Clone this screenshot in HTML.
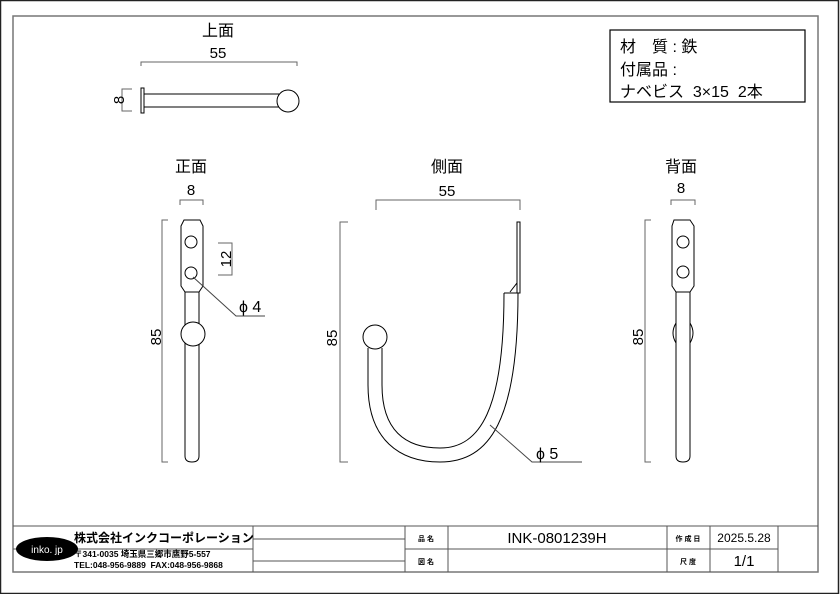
<!DOCTYPE html><html><head><meta charset="utf-8"><style>body{margin:0;background:#fff}svg{display:block}text{font-family:"Liberation Sans","Noto Sans CJK JP",sans-serif;fill:#000}</style></head><body>
<svg width="840" height="594" viewBox="0 0 840 594" xmlns="http://www.w3.org/2000/svg">
<rect x="0.5" y="0.5" width="838" height="593" fill="none" stroke="#222" stroke-width="1.5"/>
<rect x="13" y="16" width="805" height="556" fill="none" stroke="#777" stroke-width="1.5"/>
<g fill="none" stroke="#000" stroke-width="1">
<path d="M141 66V62H297V66" stroke="#666"/>
<path d="M132 89H122V111H132" stroke="#666"/>
<rect x="141" y="88" width="3" height="25"/>
<path d="M144 94H279M144 107H279"/>
<circle cx="288" cy="101" r="11"/>
<path d="M180 205V200H203V205" stroke="#666"/>
<path d="M168 220H162V462H168" stroke="#666"/>
<path d="M218 243H232V275H218" stroke="#666"/>
<path d="M184 220H200L203 226V286L199 292H185L181 286V226Z"/>
<circle cx="191" cy="242" r="6"/><circle cx="191" cy="273" r="6"/>
<path d="M185 292V456Q185 462 192 462Q199 462 199 456V292"/>
<circle cx="193" cy="334" r="12" fill="#fff"/>
<path d="M193 277L236 316H265" stroke="#444"/>
<path d="M376 210V200H520V210" stroke="#666"/>
<path d="M348 222H340V462H348" stroke="#666"/>
<rect x="517" y="222" width="3" height="71"/>
<path d="M510 292L517 283V292"/>
<path d="M504 293H518"/>
<path d="M368 348V385C368 440 400 462 440 462C490 462 518 420 518 293"/>
<path d="M382 348V385C382 430 405 448 440 448C480 448 504 410 504 293"/>
<circle cx="375" cy="337" r="12"/>
<path d="M490 425L532 462H582" stroke="#444"/>
<path d="M671 205V200H695V205" stroke="#666"/>
<path d="M651 220H645V462H651" stroke="#666"/>
<path d="M674 220H690L694 226V286L690 292H676L672 286V226Z"/>
<circle cx="683" cy="242" r="6"/><circle cx="683" cy="272" r="6"/>
<path d="M676 292V456Q676 462 683 462Q690 462 690 456V292"/>
<path d="M676 323Q670 333 676 343M690 323Q696 333 690 343"/>
<rect x="610" y="30" width="195" height="72" stroke-width="1.2"/>
<path d="M13 526H818M13 549H253M405 549H778M253 539H405M253 561H405M253 526V572M405 526V572M448 526V572M667 526V572M710 526V572M778 526V572" stroke="#555"/>
</g>
<text x="218" y="36" font-size="16" text-anchor="middle">上面</text>
<text x="218" y="58" font-size="15" text-anchor="middle">55</text>
<text x="119" y="100" font-size="15" text-anchor="middle" transform="rotate(-90 119 100)" dy="5">8</text>
<text x="191" y="172" font-size="16" text-anchor="middle">正面</text>
<text x="191" y="195" font-size="15" text-anchor="middle">8</text>
<text x="156" y="337" font-size="15" text-anchor="middle" transform="rotate(-90 156 337)" dy="5">85</text>
<text x="226" y="259" font-size="15" text-anchor="middle" transform="rotate(-90 226 259)" dy="5">12</text>
<text x="239" y="312" font-size="16">ϕ 4</text>
<text x="447" y="172" font-size="16" text-anchor="middle">側面</text>
<text x="447" y="196" font-size="15" text-anchor="middle">55</text>
<text x="332" y="338" font-size="15" text-anchor="middle" transform="rotate(-90 332 338)" dy="5">85</text>
<text x="536" y="459" font-size="16">ϕ 5</text>
<text x="681" y="172" font-size="16" text-anchor="middle">背面</text>
<text x="681" y="193" font-size="15" text-anchor="middle">8</text>
<text x="638" y="337" font-size="15" text-anchor="middle" transform="rotate(-90 638 337)" dy="5">85</text>
<text x="620" y="52" font-size="16">材　質 : 鉄</text>
<text x="620" y="75" font-size="16">付属品 :</text>
<text x="620" y="97" font-size="16">ナベビス&#160;&#160;3×15&#160;&#160;2本</text>
<ellipse cx="47" cy="549" rx="31" ry="12" fill="#000"/>
<text x="47" y="553" font-size="10" text-anchor="middle" style="fill:#fff">inko. jp</text>
<text x="74" y="542" font-size="12" font-weight="bold">株式会社インクコーポレーション</text>
<text x="74" y="557" font-size="8.5" font-weight="bold">〒341-0035 埼玉県三郷市鷹野5-557</text>
<text x="74" y="568" font-size="8.5" font-weight="bold">TEL:048-956-9889&#160;&#160;FAX:048-956-9868</text>
<text x="426" y="541" font-size="7" text-anchor="middle" font-weight="bold">品 名</text>
<text x="426" y="564" font-size="7" text-anchor="middle" font-weight="bold">図 名</text>
<text x="557" y="543" font-size="15" text-anchor="middle">INK-0801239H</text>
<text x="688" y="541" font-size="7" text-anchor="middle" font-weight="bold">作 成 日</text>
<text x="688" y="564" font-size="7" text-anchor="middle" font-weight="bold">尺 度</text>
<text x="744" y="542" font-size="12" text-anchor="middle">2025.5.28</text>
<text x="744" y="566" font-size="15" text-anchor="middle">1/1</text>
</svg></body></html>
